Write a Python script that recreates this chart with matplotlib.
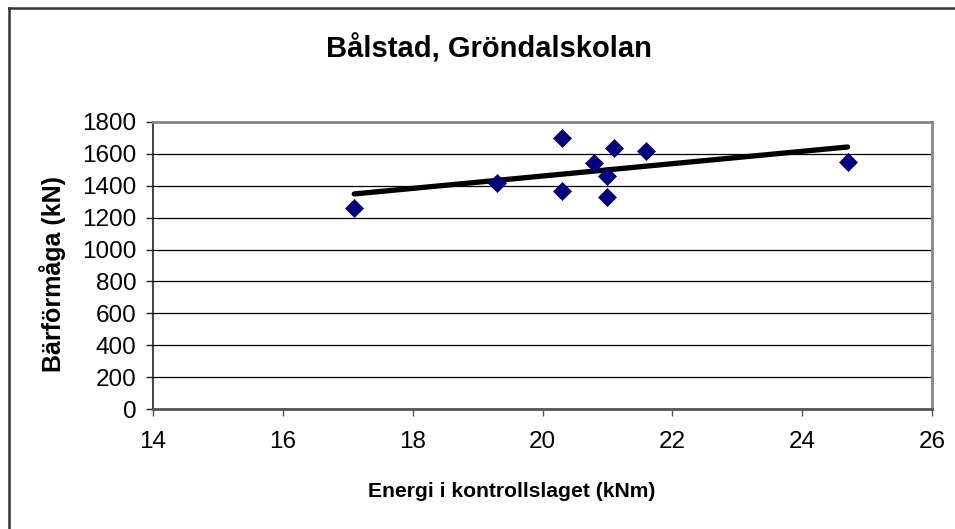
import numpy as np
import matplotlib
matplotlib.use('Agg')
import matplotlib.pyplot as plt
from matplotlib.lines import Line2D

plt.rcParams['font.family'] = ['Liberation Sans', 'DejaVu Sans']

# mätpunkter
energi = [17.1, 19.3, 20.3, 20.3, 20.8, 21.0, 21.0, 21.1, 21.6, 24.7]
barformaga = [1260, 1420, 1700, 1370, 1540, 1460, 1330, 1640, 1620, 1550]

titel = 'Bålstad, Gröndalskolan'
xlabel = 'Energi i kontrollslaget (kNm)'
ylabel = 'Bärförmåga (kN)'
xticks = [14, 16, 18, 20, 22, 24, 26]
yticks = [0, 200, 400, 600, 800, 1000, 1200, 1400, 1600, 1800]

fig = plt.figure(figsize=(9.55, 5.29), dpi=100)
ax = fig.add_axes([153/955, 1-409/529, (932-153)/955, (409-122)/529])

# linjär trendlinje som i Excel
k, m = np.polyfit(energi, barformaga, 1)
xt = np.array([min(energi), max(energi)])
ax.plot(xt, k*xt + m, color='black', lw=3.8, solid_capstyle='round', zorder=3)

ax.plot(energi, barformaga, 'D', color='#000080', markersize=8.8,
        markeredgewidth=0.5, markeredgecolor='#000080', zorder=4, clip_on=False)

ax.set_xlim(14, 26)
ax.set_ylim(0, 1800)
ax.set_xticks(xticks)
ax.set_yticks(yticks)
ax.yaxis.grid(True, color='black', lw=0.9)
ax.set_axisbelow(True)

ax.spines['top'].set_color('#888888')
ax.spines['right'].set_color('#888888')
ax.spines['top'].set_linewidth(2)
ax.spines['right'].set_linewidth(2)
ax.spines['left'].set_color('#222222')
ax.spines['left'].set_linewidth(1.2)
ax.spines['bottom'].set_color('#555555')
ax.spines['bottom'].set_linewidth(2)

ax.tick_params(axis='y', direction='out', length=5, width=1, color='#222222',
               labelsize=17.5, pad=7)
ax.tick_params(axis='x', direction='out', length=5, width=1, color='#555555',
               labelsize=17.5, pad=11)

fig.text(489/955, 1-57/529, titel, ha='center', va='baseline',
         fontsize=21, fontweight='bold')
fig.text(512/955, 1-497/529, xlabel, ha='center', va='baseline',
         fontsize=15.2, fontweight='bold')
fig.text(53/955, 1-274/529, ylabel, ha='center', va='center', rotation=90,
         fontsize=18, fontweight='bold')

# ram runt diagramytan (bara överkant och vänsterkant syns)
fig.add_artist(Line2D([8.5/955, 1], [1-7.5/529, 1-7.5/529], color='#333333', lw=1.8))
fig.add_artist(Line2D([8.5/955, 8.5/955], [0, 1-7.5/529], color='#333333', lw=1.8))

fig.savefig('out.png', dpi=100)
